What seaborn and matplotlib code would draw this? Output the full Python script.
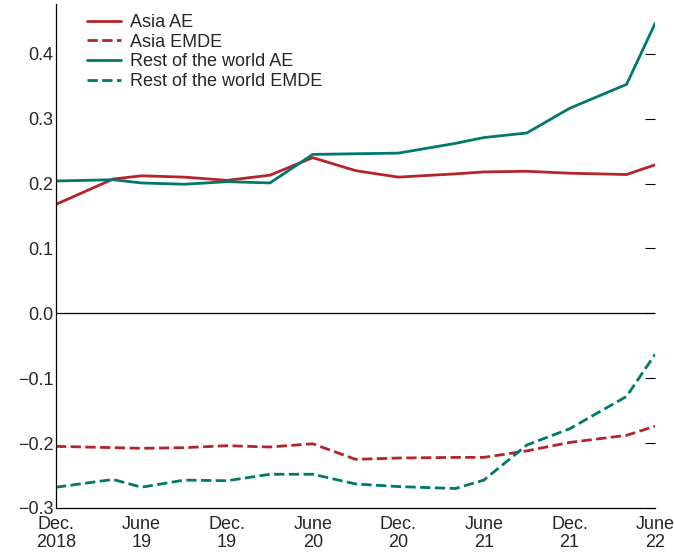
import matplotlib
matplotlib.use("Agg")
import matplotlib.pyplot as plt
import pandas as pd
import seaborn as sns

# months since Dec. 2018
months = [0, 4, 6, 9, 12, 15, 18, 21, 24, 28, 30, 33, 36, 40, 42]
asia_ae = [0.168, 0.207, 0.212, 0.210, 0.205, 0.213, 0.240, 0.220, 0.210, 0.215, 0.218, 0.219, 0.216, 0.214, 0.229]
asia_emde = [-0.205, -0.207, -0.208, -0.207, -0.204, -0.206, -0.201, -0.225, -0.223, -0.222, -0.222, -0.212, -0.199, -0.188, -0.174]
row_ae = [0.204, 0.206, 0.201, 0.199, 0.203, 0.201, 0.245, 0.246, 0.247, 0.262, 0.271, 0.278, 0.316, 0.353, 0.447]
row_emde = [-0.268, -0.256, -0.268, -0.257, -0.258, -0.248, -0.248, -0.263, -0.267, -0.270, -0.257, -0.203, -0.178, -0.128, -0.063]
tick_pos = [0, 6, 12, 18, 24, 30, 36, 42]
tick_labels = ["Dec.\n2018", "June\n19", "Dec.\n19", "June\n20", "Dec.\n20", "June\n21", "Dec.\n21", "June\n22"]

red = "#b5242a"
teal = "#00786a"

sns.set_style("white")
plt.rcParams["font.family"] = ["Liberation Sans", "DejaVu Sans"]

df = pd.DataFrame({"m": months, "Asia AE": asia_ae, "Asia EMDE": asia_emde,
                   "Rest of the world AE": row_ae, "Rest of the world EMDE": row_emde})

fig = plt.figure(figsize=(6.74, 5.57), dpi=100)
ax = fig.add_axes([0.083, 0.088, 0.889, 0.905])
styles = [("Asia AE", red, "-"), ("Asia EMDE", red, "--"),
          ("Rest of the world AE", teal, "-"), ("Rest of the world EMDE", teal, "--")]
for name, c, ls in styles:
    sns.lineplot(data=df, x="m", y=name, ax=ax, color=c, linestyle=ls, lw=2, label=name)

ax.axhline(0, color="black", lw=0.9)
ax.set_xlim(0, 42)
ax.set_ylim(-0.3, 0.477)
ax.set_yticks([-0.3, -0.2, -0.1, 0.0, 0.1, 0.2, 0.3, 0.4])
ax.set_yticklabels(["\u22120.3", "\u22120.2", "\u22120.1", "0.0", "0.1", "0.2", "0.3", "0.4"])
ax.set_xticks(tick_pos)
ax.set_xticklabels(tick_labels, linespacing=1.05)
ax.tick_params(axis="y", direction="in", length=7, right=True, labelsize=13, color="black", pad=2)
ax.tick_params(axis="x", direction="in", length=7, labelsize=13, color="black", pad=6)
ax.set_xlabel("")
ax.set_ylabel("")
for s in ["top", "right"]:
    ax.spines[s].set_visible(False)
for s in ["left", "bottom"]:
    ax.spines[s].set_color("black")
    ax.spines[s].set_linewidth(0.9)

ax.legend(loc="upper left", bbox_to_anchor=(0.03, 1.005), frameon=False, fontsize=13,
          handlelength=1.9, labelspacing=0.15, borderpad=0.2, handletextpad=0.5)
fig.savefig("out.png", dpi=100)
